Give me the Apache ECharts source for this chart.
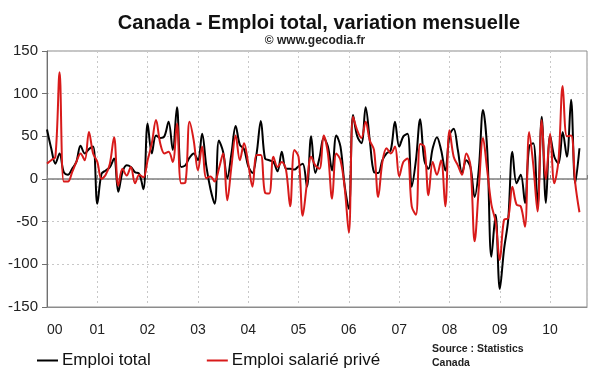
<!DOCTYPE html>
<html>
<head>
<meta charset="utf-8">
<script src="https://cdn.jsdelivr.net/npm/echarts@6/dist/echarts.min.js"></script>
<style>
html,body{margin:0;padding:0;background:#fff;}
#c{width:600px;height:372px;}
</style>
</head>
<body>
<div id="c"></div>
<script>
// Monthly change, Jan 2000 .. Aug 2010 (thousands)
var yearLabels = ['00','01','02','03','04','05','06','07','08','09','10'];
var emploiTotal = [
 58,36,18,30,8,5,12,20,39,30,35,38,
 -29,6,10,14,24,-15,8,16,14,8,6,-12,
 65,30,51,48,50,67,34,84,14,16,25,30,
 22,53,15,-12,-29,45,32,1,30,62,40,35,
 15,7,30,68,24,22,20,9,32,12,12,11,
 15,18,-9,50,7,25,48,38,10,51,38,-8,
 -35,75,50,42,84,45,8,7,22,30,34,67,
 38,50,53,-9,22,70,22,12,36,49,34,10,
 51,59,34,7,22,14,-21,12,81,34,-91,-42,
 -129,-83,-48,32,-5,5,-28,38,42,-32,73,-28,
 51,26,18,55,26,93,-5,36
];
var emploiPrive = [
 18,22,26,125,-3,-3,8,20,30,22,55,30,
 20,0,5,18,49,-8,12,4,14,-5,5,2,
 22,42,69,42,30,32,20,65,-5,-4,67,45,
 10,38,1,3,-3,12,30,-25,15,51,22,42,
 18,-9,28,28,-16,-17,26,14,20,11,-32,34,
 26,-43,-5,26,16,12,51,30,-23,30,22,-10,
 -63,73,57,48,67,45,34,-21,20,36,30,38,
 3,20,24,-32,-42,41,38,-19,20,5,22,-32,
 57,26,16,5,30,16,-73,-10,48,10,-30,-50,
 -95,-48,-46,-9,-30,-32,-56,55,16,-38,69,0,
 53,-5,22,109,50,51,-5,-39
];
var yTicks = {min:-150, max:150, step:50};

function pairs(arr){ return arr.map(function(v,i){ return [i, v]; }); }

var chart = echarts.init(document.getElementById('c'), null, {renderer:'canvas'});
var FONT = '"Liberation Sans", Arial, sans-serif';
var XMAX = 128.8;
var option = {
  backgroundColor:'#fff',
  animation:false,
  textStyle:{fontFamily:FONT},
  graphic:[
    {type:'text', x:319, y:23, style:{text:'Canada - Emploi total, variation mensuelle', font:'bold 20px '+FONT, fill:'#111', textAlign:'center', textVerticalAlign:'middle'}},
    {type:'text', x:315, y:41, style:{text:'\u00A9 www.gecodia.fr', font:'bold 12px '+FONT, fill:'#222', textAlign:'center', textVerticalAlign:'middle'}},
    {type:'text', x:432, y:349, style:{text:'Source : Statistics', font:'bold 10.5px "Liberation Sans Narrow", '+FONT, fill:'#222', textAlign:'left', textVerticalAlign:'middle'}},
    {type:'text', x:432, y:363, style:{text:'Canada', font:'bold 10.5px "Liberation Sans Narrow", '+FONT, fill:'#222', textAlign:'left', textVerticalAlign:'middle'}}
  ],
  legend:{
    left:32, top:347, itemWidth:21, itemHeight:2, itemGap:56, icon:'rect',
    textStyle:{fontSize:17, color:'#111', fontFamily:FONT, padding:[0,0,0,-1]},
    data:[{name:'Emploi total'},{name:'Emploi salari\u00E9 priv\u00E9'}]
  },
  grid:{left:47, right:13, top:51, bottom:65, show:true, borderColor:'#8c8c8c', borderWidth:1, backgroundColor:'#fff'},
  xAxis:[{
    type:'value', min:0, max:XMAX, interval:12, position:'bottom',
    axisLine:{show:true, onZero:false, lineStyle:{color:'#8c8c8c', width:1}},
    axisTick:{show:false},
    axisLabel:{fontSize:14, color:'#222', margin:16, showMaxLabel:true, alignMinLabel:'left',
      formatter:function(v){ if (Math.abs(v % 12) < 1e-6) { var k = Math.round(v/12); return yearLabels[k] || ''; } return ''; }},
    splitLine:{show:true, lineStyle:{color:'#c8c8c8', type:[2,3], width:1}}
  },{
    type:'value', min:0, max:XMAX, interval:12, position:'top',
    axisLine:{show:true, onZero:true, lineStyle:{color:'#808080', width:1.5}},
    axisTick:{show:true, inside:false, length:4, lineStyle:{color:'#808080'}},
    axisLabel:{show:false},
    splitLine:{show:false}
  }],
  yAxis:{
    type:'value', min:yTicks.min, max:yTicks.max, interval:yTicks.step,
    axisLine:{show:true, onZero:false, lineStyle:{color:'#707070', width:1}},
    axisTick:{show:true, inside:false, length:5, lineStyle:{color:'#707070'}},
    axisLabel:{fontSize:15, color:'#222', margin:9},
    splitLine:{show:true, lineStyle:{color:'#c8c8c8', type:[2,3], width:1}}
  },
  series:[
    {name:'Emploi total', type:'line', xAxisIndex:0, data:pairs(emploiTotal), smooth:0.35, symbol:'none',
     lineStyle:{color:'#000', width:2}, itemStyle:{color:'#000'}},
    {name:'Emploi salari\u00E9 priv\u00E9', type:'line', xAxisIndex:0, data:pairs(emploiPrive), smooth:0.35, symbol:'none',
     lineStyle:{color:'#d81a1a', width:2}, itemStyle:{color:'#d81a1a'}}
  ]
};
chart.setOption(option);
</script>
</body>
</html>
